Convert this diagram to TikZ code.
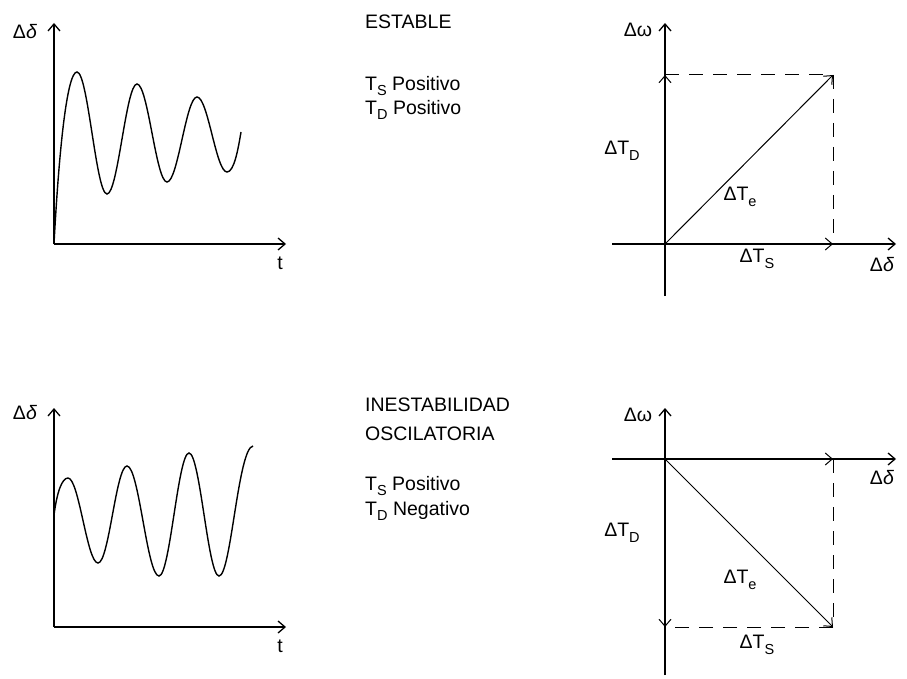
\documentclass[tikz,border=0pt]{standalone}
\usepackage{fontspec}
\setmainfont{Liberation Sans}
\usetikzlibrary{arrows.meta}
\newcommand{\dd}{Δ\textit{δ}}
\newcommand{\lowsub}[1]{\raisebox{-0.3em}{\fontsize{14.5}{14.5}\selectfont #1}}
\tikzset{
  axis/.style={line width=1.3pt, -{Straight Barb[length=7pt,width=12pt]}},
  phasor/.style={line width=1pt, -{Straight Barb[length=7pt,width=12pt]}},
  guide/.style={line width=1pt, dash pattern=on 14pt off 10pt},
  wave/.style={line width=1.4pt},
  lbl/.style={inner sep=0pt, font=\fontsize{19.5}{23}\selectfont},
}
\begin{document}
\begin{tikzpicture}[x=1pt, y=-1pt]
  \useasboundingbox (0,0) rectangle (907,679);

  % Stable case: time response
  \coordinate (o1) at (54,244);
  \coordinate (y1) at (54,23);
  \coordinate (x1) at (286,244);
  \draw[axis] (o1) -- (y1);
  \draw[axis] (o1) -- (x1);
  \node[lbl] (dl1) at (25,32) {\dd};
  \node[lbl] (t1) at (280,263) {t};
  \draw[wave] (o1) .. controls (59,150) and (67,72) .. (77,72)
    .. controls (88,72) and (96,194) .. (107,194)
    .. controls (118,194) and (126,84) .. (137,84)
    .. controls (148,84) and (156,182) .. (167,182)
    .. controls (178,182) and (186,97) .. (197,97)
    .. controls (208,97) and (216,172) .. (227,172)
    .. controls (234,172) and (238,150) .. (241,132);

  % Stable case: text
  \node[lbl, anchor=west] (st) at (365,22) {ESTABLE};
  \node[lbl, anchor=west] (ts1) at (365,86) {T\lowsub{S}\ Positivo};
  \node[lbl, anchor=west] (td1) at (365,110) {T\lowsub{D}\ Positivo};

  % Stable case: phasors
  \coordinate (p1) at (665,244);
  \coordinate (w1) at (665,23);
  \coordinate (wb1) at (665,296);
  \coordinate (dl) at (612,244);
  \coordinate (dr) at (896,244);
  \coordinate (tdh) at (665,75);
  \coordinate (tsh) at (833,244);
  \coordinate (teh) at (833,75);
  \draw[axis] (wb1) -- (w1);
  \draw[axis] (dl) -- (dr);
  \draw[phasor] (p1) -- (tdh);
  \draw[phasor] (p1) -- (tsh);
  \draw[phasor] (p1) -- (teh);
  \draw[guide] (tdh) -- (teh) -- (tsh);
  \node[lbl] (om1) at (638,30) {Δω};
  \node[lbl] (dr1) at (882,265) {\dd};
  \node[lbl] (ltd1) at (622,151) {ΔT\lowsub{D}};
  \node[lbl] (lte1) at (740,197) {ΔT\lowsub{e}};
  \node[lbl] (lts1) at (757,259) {ΔT\lowsub{S}};

  % Oscillatory instability: time response
  \coordinate (o2) at (54,627);
  \coordinate (y2) at (54,408);
  \coordinate (x2) at (286,627);
  \draw[axis] (o2) -- (y2);
  \draw[axis] (o2) -- (x2);
  \node[lbl] (dl2) at (25,413) {\dd};
  \node[lbl] (t2) at (280,646) {t};
  \draw[wave] (54,515) .. controls (57,492) and (62,478) .. (68,478)
    .. controls (79,478) and (87,563) .. (98,563)
    .. controls (109,563) and (116,466) .. (127,466)
    .. controls (139,466) and (147,576) .. (159,576)
    .. controls (170,576) and (178,453) .. (189,453)
    .. controls (200,453) and (208,576) .. (219,576)
    .. controls (231,576) and (238,448) .. (253,446);

  % Oscillatory instability: text
  \node[lbl, anchor=west] (in) at (365,405) {INESTABILIDAD};
  \node[lbl, anchor=west] (osc) at (365,434) {OSCILATORIA};
  \node[lbl, anchor=west] (ts2) at (365,486) {T\lowsub{S}\ Positivo};
  \node[lbl, anchor=west] (td2) at (365,511) {T\lowsub{D}\ Negativo};

  % Oscillatory instability: phasors
  \coordinate (p2) at (665,459);
  \coordinate (w2) at (665,408);
  \coordinate (wb2) at (665,675);
  \coordinate (el) at (612,459);
  \coordinate (er) at (896,459);
  \coordinate (tdl) at (665,627);
  \coordinate (tsl) at (833,459);
  \coordinate (tel) at (833,627);
  \draw[axis] (wb2) -- (w2);
  \draw[axis] (el) -- (er);
  \draw[phasor] (p2) -- (tdl);
  \draw[phasor] (p2) -- (tsl);
  \draw[phasor] (p2) -- (tel);
  \draw[guide] (tsl) -- (tel) -- (tdl);
  \node[lbl] (om2) at (638,415) {Δω};
  \node[lbl] (dr2) at (882,478) {\dd};
  \node[lbl] (ltd2) at (622,533) {ΔT\lowsub{D}};
  \node[lbl] (lte2) at (740,580) {ΔT\lowsub{e}};
  \node[lbl] (lts2) at (757,645) {ΔT\lowsub{S}};
\end{tikzpicture}
\end{document}
